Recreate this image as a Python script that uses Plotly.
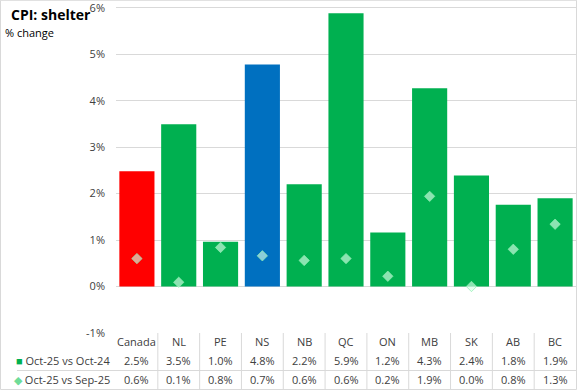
import plotly.graph_objects as go

categories = ["Canada", "NL", "PE", "NS", "NB", "QC", "ON", "MB", "SK", "AB", "BC"]
yoy = [2.48, 3.49, 0.96, 4.78, 2.2, 5.88, 1.16, 4.27, 2.39, 1.76, 1.9]
mom = [0.6, 0.09, 0.84, 0.66, 0.56, 0.6, 0.22, 1.94, 0.0, 0.8, 1.34]
yoy_label = "Oct-25 vs Oct-24"
mom_label = "Oct-25 vs Sep-25"
y_ticks = [-1, 0, 1, 2, 3, 4, 5, 6]

GREEN = "#00B050"
bar_colors = ["#FF0000" if c == "Canada" else ("#0070C0" if c == "NS" else GREEN) for c in categories]
FONT = "Open Sans"
TXT = "#404040"

W, H = 577, 390
Y_LO, Y_HI = -1.002, 6.06
PX_PER_UNIT = 46.43
L, R, B = 116, 1, 57
T = 8 - (Y_HI - 6) * PX_PER_UNIT
pw, ph = W - L - R, H - T - B

def px_x(p):
    return (p - L) / pw

def px_y(p):
    return (H - B - p) / ph

fig = go.Figure()
fig.add_trace(go.Bar(x=categories, y=yoy, marker=dict(color=bar_colors, line=dict(width=0)),
                     name=yoy_label, hoverinfo="x+y"))
fig.add_trace(go.Scatter(x=categories, y=mom, mode="markers", name=mom_label, cliponaxis=False,
                         marker=dict(symbol="diamond", size=8,
                                     color="rgba(215,255,230,0.65)",
                                     line=dict(width=1, color="rgba(140,240,175,0.7)"))))

shapes = []
shapes.append(dict(type="rect", xref="paper", yref="paper",
                   x0=px_x(0.5), x1=px_x(576.5), y0=px_y(389.5), y1=px_y(0.5),
                   line=dict(color="#d9d9d9", width=1), fillcolor="rgba(0,0,0,0)", layer="above"))
shapes.append(dict(type="line", xref="paper", yref="paper",
                   x0=px_x(17), x1=px_x(576), y0=px_y(370.5), y1=px_y(370.5),
                   line=dict(color="#d9d9d9", width=1)))
for i in range(len(categories) - 1):
    shapes.append(dict(type="line", xref="x", yref="paper",
                       x0=i + 0.5, x1=i + 0.5, y0=0, y1=px_y(389.5),
                       line=dict(color="#d9d9d9", width=1)))

ann = []
ann.append(dict(text="<b>CPI: shelter</b>", xref="paper", yref="paper", x=px_x(9), y=px_y(15),
                xanchor="left", yanchor="middle", showarrow=False,
                font=dict(family=FONT, size=14, color="#000000")))
ann.append(dict(text="% change", xref="paper", yref="paper", x=px_x(3), y=px_y(33),
                xanchor="left", yanchor="middle", showarrow=False,
                font=dict(family=FONT, size=11, color="#000000")))
for i, c in enumerate(categories):
    ann.append(dict(text=c, xref="x", yref="paper", x=i, y=px_y(341.5), showarrow=False,
                    xanchor="center", yanchor="middle", font=dict(family=FONT, size=11, color=TXT)))
    ann.append(dict(text=f"{yoy[i]:.1f}%", xref="x", yref="paper", x=i, y=px_y(360.5), showarrow=False,
                    xanchor="center", yanchor="middle", font=dict(family=FONT, size=11, color=TXT)))
    ann.append(dict(text=f"{mom[i]:.1f}%", xref="x", yref="paper", x=i, y=px_y(379.5), showarrow=False,
                    xanchor="center", yanchor="middle", font=dict(family=FONT, size=11, color=TXT)))
ann.append(dict(text=f"<span style='color:{GREEN}'>■</span> {yoy_label}", xref="paper", yref="paper",
                x=px_x(112), y=px_y(360.5), xanchor="right", yanchor="middle", showarrow=False,
                font=dict(family=FONT, size=11, color=TXT)))
ann.append(dict(text=f"<span style='color:#6fdc98'>◆</span> {mom_label}", xref="paper", yref="paper",
                x=px_x(112), y=px_y(379.5), xanchor="right", yanchor="middle", showarrow=False,
                font=dict(family=FONT, size=11, color=TXT)))

fig.update_layout(
    width=W, height=H, margin=dict(l=L, r=R, t=T, b=B, pad=0),
    paper_bgcolor="white", plot_bgcolor="white",
    showlegend=False, bargap=0.16,
    shapes=shapes, annotations=ann,
    xaxis=dict(type="category", range=[-0.5, len(categories) - 0.5], showticklabels=False,
               showgrid=False, zeroline=False, showline=False, fixedrange=True),
    yaxis=dict(range=[Y_LO, Y_HI], tickmode="array", tickvals=y_ticks,
               ticktext=[f"{v}%" for v in y_ticks], ticklabeloverflow="allow",
               showgrid=True, gridcolor="#d9d9d9", gridwidth=1, zeroline=True,
               zerolinecolor="#d9d9d9", zerolinewidth=1, showline=False,
               ticks="", ticklabelstandoff=10, automargin=False,
               tickfont=dict(family=FONT, size=11, color=TXT), fixedrange=True),
)

fig.write_html("out.html", config={"displayModeBar": False},
               post_script="document.body.style.margin='0';document.body.style.padding='0';"
                           "document.documentElement.style.overflow='hidden';")
